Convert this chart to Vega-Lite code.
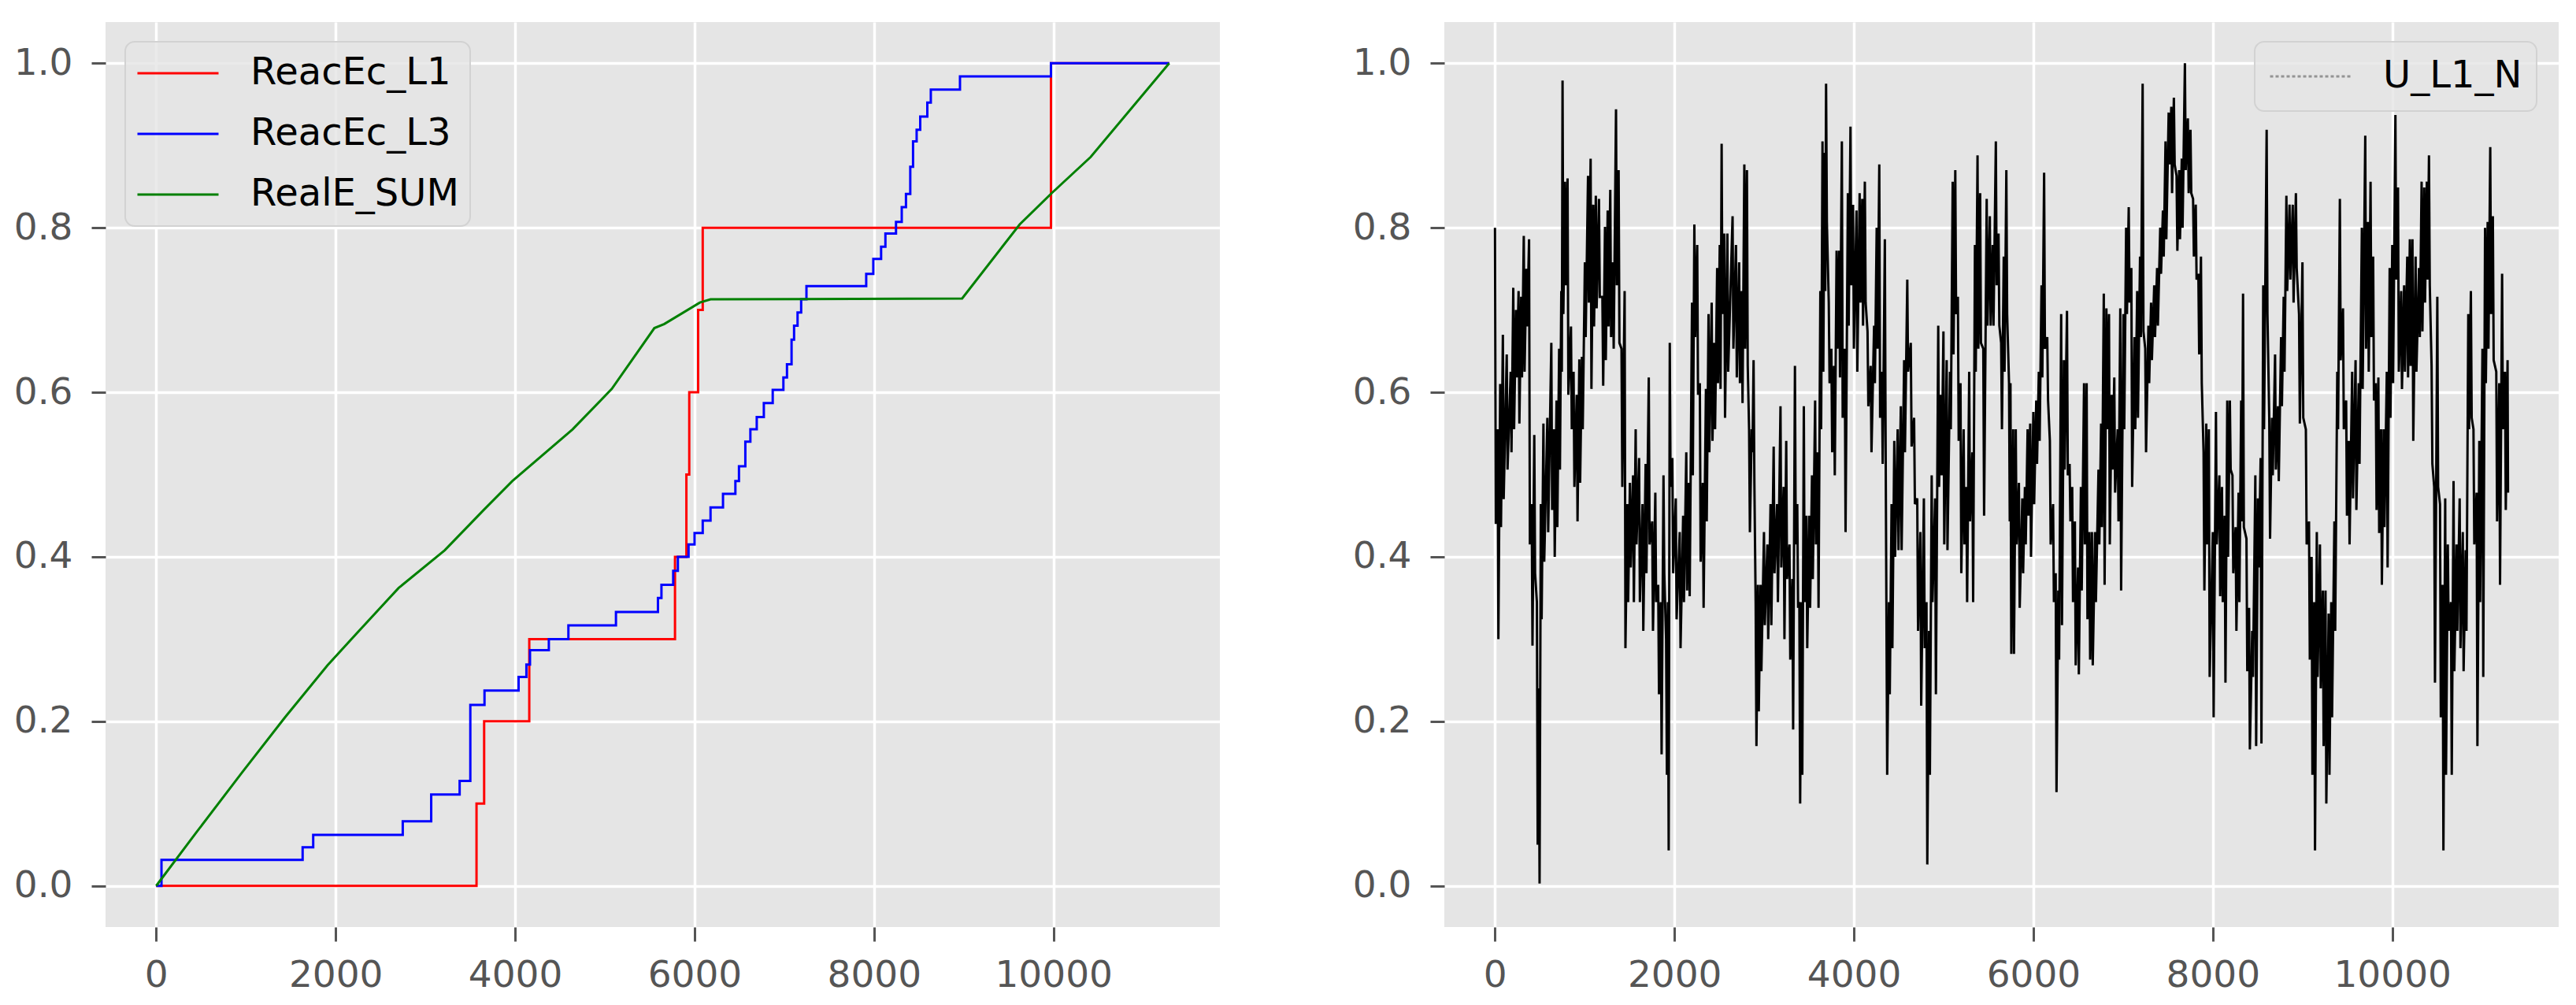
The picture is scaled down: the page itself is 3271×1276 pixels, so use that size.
{
"$schema": "https://vega.github.io/schema/vega-lite/v6.json",
"background": "white",
"padding": {"left": 17, "top": 28, "right": 0, "bottom": 14},
"spacing": 168,
"config": {
  "font": "DejaVu Sans",
  "view": {"fill": "#E5E5E5", "stroke": null},
  "axis": {"domain": false, "grid": true, "gridColor": "#FFFFFF", "gridWidth": 3.5, "tickColor": "#555555", "tickWidth": 3, "tickSize": 18, "labelColor": "#555555", "labelFont": "DejaVu Sans", "labelFontSize": 47, "labelLimit": 1000, "labelOverlap": false, "labelFlush": false, "title": null},
  "axisX": {"labelPadding": 20},
  "axisY": {"labelPadding": 24},
  "legend": {"strokeWidth": 2}
},
"resolve": {"scale": {"color": "independent"}, "legend": {"color": "independent"}},
"datasets": {
"left": [
{"s":"ReacEc_L1","x":0,"y":0},{"s":"ReacEc_L1","x":3570,"y":0.1},{"s":"ReacEc_L1","x":3655,"y":0.2},{"s":"ReacEc_L1","x":4158,"y":0.3},{"s":"ReacEc_L1","x":5782,"y":0.4},{"s":"ReacEc_L1","x":5909,"y":0.5},{"s":"ReacEc_L1","x":5941,"y":0.6},{"s":"ReacEc_L1","x":6040,"y":0.7},{"s":"ReacEc_L1","x":6091,"y":0.8},{"s":"ReacEc_L1","x":9972,"y":1.0},{"s":"ReacEc_L1","x":11290,"y":1.0},
{"s":"ReacEc_L3","x":0,"y":0},{"s":"ReacEc_L3","x":59,"y":0.0315},{"s":"ReacEc_L3","x":1632,"y":0.047},{"s":"ReacEc_L3","x":1750,"y":0.062},{"s":"ReacEc_L3","x":2748,"y":0.0785},{"s":"ReacEc_L3","x":3065,"y":0.111},{"s":"ReacEc_L3","x":3382,"y":0.1275},{"s":"ReacEc_L3","x":3501,"y":0.22},{"s":"ReacEc_L3","x":3659,"y":0.2375},{"s":"ReacEc_L3","x":4039,"y":0.254},{"s":"ReacEc_L3","x":4126,"y":0.269},{"s":"ReacEc_L3","x":4166,"y":0.2866},{"s":"ReacEc_L3","x":4376,"y":0.30},{"s":"ReacEc_L3","x":4594,"y":0.3167},{"s":"ReacEc_L3","x":5124,"y":0.333},{"s":"ReacEc_L3","x":5592,"y":0.35},{"s":"ReacEc_L3","x":5631,"y":0.366},{"s":"ReacEc_L3","x":5762,"y":0.383},{"s":"ReacEc_L3","x":5814,"y":0.40},{"s":"ReacEc_L3","x":5933,"y":0.415},{"s":"ReacEc_L3","x":6000,"y":0.429},{"s":"ReacEc_L3","x":6091,"y":0.444},{"s":"ReacEc_L3","x":6178,"y":0.46},{"s":"ReacEc_L3","x":6317,"y":0.4765},{"s":"ReacEc_L3","x":6455,"y":0.492},{"s":"ReacEc_L3","x":6495,"y":0.51},{"s":"ReacEc_L3","x":6566,"y":0.54},{"s":"ReacEc_L3","x":6622,"y":0.555},{"s":"ReacEc_L3","x":6693,"y":0.57},{"s":"ReacEc_L3","x":6772,"y":0.587},{"s":"ReacEc_L3","x":6871,"y":0.603},{"s":"ReacEc_L3","x":6990,"y":0.618},{"s":"ReacEc_L3","x":7030,"y":0.634},{"s":"ReacEc_L3","x":7081,"y":0.664},{"s":"ReacEc_L3","x":7109,"y":0.681},{"s":"ReacEc_L3","x":7148,"y":0.697},{"s":"ReacEc_L3","x":7188,"y":0.713},{"s":"ReacEc_L3","x":7247,"y":0.729},{"s":"ReacEc_L3","x":7913,"y":0.744},{"s":"ReacEc_L3","x":7992,"y":0.762},{"s":"ReacEc_L3","x":8079,"y":0.777},{"s":"ReacEc_L3","x":8127,"y":0.793},{"s":"ReacEc_L3","x":8245,"y":0.807},{"s":"ReacEc_L3","x":8309,"y":0.825},{"s":"ReacEc_L3","x":8356,"y":0.841},{"s":"ReacEc_L3","x":8404,"y":0.874},{"s":"ReacEc_L3","x":8435,"y":0.905},{"s":"ReacEc_L3","x":8475,"y":0.919},{"s":"ReacEc_L3","x":8515,"y":0.935},{"s":"ReacEc_L3","x":8594,"y":0.952},{"s":"ReacEc_L3","x":8633,"y":0.968},{"s":"ReacEc_L3","x":8958,"y":0.984},{"s":"ReacEc_L3","x":9972,"y":1.0},{"s":"ReacEc_L3","x":11290,"y":1.0},
{"s":"RealE_SUM","x":0,"y":0},{"s":"RealE_SUM","x":444,"y":0.0645},{"s":"RealE_SUM","x":958,"y":0.138},{"s":"RealE_SUM","x":1434,"y":0.2046},{"s":"RealE_SUM","x":1909,"y":0.268},{"s":"RealE_SUM","x":2226,"y":0.306},{"s":"RealE_SUM","x":2701,"y":0.362},{"s":"RealE_SUM","x":3216,"y":0.408},{"s":"RealE_SUM","x":3651,"y":0.457},{"s":"RealE_SUM","x":3968,"y":0.492},{"s":"RealE_SUM","x":4641,"y":0.555},{"s":"RealE_SUM","x":5077,"y":0.604},{"s":"RealE_SUM","x":5552,"y":0.678},{"s":"RealE_SUM","x":5663,"y":0.683},{"s":"RealE_SUM","x":6059,"y":0.709},{"s":"RealE_SUM","x":6178,"y":0.713},{"s":"RealE_SUM","x":8982,"y":0.714},{"s":"RealE_SUM","x":9623,"y":0.804},{"s":"RealE_SUM","x":9980,"y":0.842},{"s":"RealE_SUM","x":10415,"y":0.886},{"s":"RealE_SUM","x":11290,"y":1.0}
],
"right": [
{"x":0,"y":0.80},{"x":9,"y":0.44},{"x":29,"y":0.555},{"x":38,"y":0.30},{"x":58,"y":0.61},{"x":67,"y":0.436},{"x":88,"y":0.67},{"x":97,"y":0.47},{"x":131,"y":0.646},{"x":140,"y":0.506},{"x":175,"y":0.625},{"x":184,"y":0.527},{"x":204,"y":0.727},{"x":213,"y":0.555},{"x":234,"y":0.70},{"x":243,"y":0.618},{"x":263,"y":0.723},{"x":272,"y":0.562},{"x":292,"y":0.716},{"x":301,"y":0.618},{"x":321,"y":0.79},{"x":330,"y":0.625},{"x":350,"y":0.75},{"x":359,"y":0.68},{"x":380,"y":0.786},{"x":389,"y":0.415},{"x":409,"y":0.464},{"x":418,"y":0.292},{"x":438,"y":0.548},{"x":447,"y":0.38},{"x":467,"y":0.345},{"x":476,"y":0.05},{"x":488,"y":0.24},{"x":497,"y":0.003},{"x":511,"y":0.464},{"x":520,"y":0.324},{"x":540,"y":0.562},{"x":549,"y":0.394},{"x":584,"y":0.569},{"x":593,"y":0.43},{"x":628,"y":0.66},{"x":637,"y":0.457},{"x":657,"y":0.555},{"x":666,"y":0.40},{"x":686,"y":0.59},{"x":695,"y":0.436},{"x":715,"y":0.653},{"x":724,"y":0.506},{"x":739,"y":0.723},{"x":745,"y":0.625},{"x":753,"y":0.979},{"x":762,"y":0.695},{"x":780,"y":0.856},{"x":789,"y":0.73},{"x":809,"y":0.86},{"x":818,"y":0.597},{"x":847,"y":0.68},{"x":856,"y":0.555},{"x":876,"y":0.625},{"x":885,"y":0.485},{"x":911,"y":0.597},{"x":920,"y":0.443},{"x":940,"y":0.64},{"x":949,"y":0.49},{"x":969,"y":0.643},{"x":978,"y":0.555},{"x":1002,"y":0.758},{"x":1011,"y":0.667},{"x":1037,"y":0.863},{"x":1046,"y":0.709},{"x":1066,"y":0.884},{"x":1075,"y":0.604},{"x":1095,"y":0.828},{"x":1104,"y":0.68},{"x":1124,"y":0.839},{"x":1133,"y":0.702},{"x":1159,"y":0.835},{"x":1168,"y":0.716},{"x":1197,"y":0.716},{"x":1206,"y":0.608},{"x":1226,"y":0.801},{"x":1235,"y":0.639},{"x":1256,"y":0.821},{"x":1265,"y":0.68},{"x":1285,"y":0.846},{"x":1294,"y":0.667},{"x":1314,"y":0.758},{"x":1323,"y":0.653},{"x":1349,"y":0.944},{"x":1358,"y":0.73},{"x":1378,"y":0.87},{"x":1387,"y":0.66},{"x":1410,"y":0.653},{"x":1419,"y":0.485},{"x":1445,"y":0.723},{"x":1454,"y":0.289},{"x":1475,"y":0.464},{"x":1484,"y":0.345},{"x":1504,"y":0.49},{"x":1513,"y":0.387},{"x":1539,"y":0.499},{"x":1548,"y":0.345},{"x":1568,"y":0.555},{"x":1577,"y":0.415},{"x":1606,"y":0.52},{"x":1615,"y":0.345},{"x":1644,"y":0.464},{"x":1653,"y":0.31},{"x":1679,"y":0.513},{"x":1688,"y":0.38},{"x":1714,"y":0.618},{"x":1723,"y":0.415},{"x":1752,"y":0.443},{"x":1761,"y":0.31},{"x":1787,"y":0.478},{"x":1796,"y":0.345},{"x":1819,"y":0.366},{"x":1828,"y":0.233},{"x":1848,"y":0.345},{"x":1857,"y":0.16},{"x":1878,"y":0.499},{"x":1887,"y":0.38},{"x":1907,"y":0.30},{"x":1916,"y":0.135},{"x":1927,"y":0.345},{"x":1936,"y":0.043},{"x":1948,"y":0.66},{"x":1957,"y":0.485},{"x":1977,"y":0.52},{"x":1986,"y":0.38},{"x":2015,"y":0.471},{"x":2024,"y":0.324},{"x":2059,"y":0.43},{"x":2068,"y":0.289},{"x":2097,"y":0.45},{"x":2106,"y":0.345},{"x":2132,"y":0.527},{"x":2141,"y":0.359},{"x":2161,"y":0.49},{"x":2170,"y":0.352},{"x":2196,"y":0.709},{"x":2205,"y":0.499},{"x":2222,"y":0.804},{"x":2231,"y":0.667},{"x":2254,"y":0.779},{"x":2263,"y":0.597},{"x":2283,"y":0.611},{"x":2292,"y":0.394},{"x":2316,"y":0.49},{"x":2325,"y":0.338},{"x":2351,"y":0.604},{"x":2360,"y":0.443},{"x":2380,"y":0.695},{"x":2389,"y":0.527},{"x":2415,"y":0.709},{"x":2424,"y":0.541},{"x":2444,"y":0.66},{"x":2453,"y":0.555},{"x":2476,"y":0.751},{"x":2485,"y":0.611},{"x":2505,"y":0.779},{"x":2514,"y":0.604},{"x":2526,"y":0.902},{"x":2535,"y":0.695},{"x":2555,"y":0.793},{"x":2564,"y":0.569},{"x":2590,"y":0.793},{"x":2599,"y":0.625},
{"x":2648,"y":0.814},{"x":2657,"y":0.653},{"x":2686,"y":0.779},{"x":2695,"y":0.618},{"x":2721,"y":0.758},{"x":2730,"y":0.611},{"x":2750,"y":0.723},{"x":2759,"y":0.587},{"x":2779,"y":0.877},{"x":2788,"y":0.653},{"x":2808,"y":0.87},{"x":2817,"y":0.632},{"x":2832,"y":0.555},{"x":2841,"y":0.43},{"x":2861,"y":0.555},{"x":2870,"y":0.527},{"x":2882,"y":0.639},{"x":2891,"y":0.49},{"x":2905,"y":0.345},{"x":2914,"y":0.17},{"x":2931,"y":0.366},{"x":2940,"y":0.212},{"x":2960,"y":0.366},{"x":2969,"y":0.261},{"x":2998,"y":0.43},{"x":3007,"y":0.317},{"x":3036,"y":0.415},{"x":3045,"y":0.30},{"x":3071,"y":0.464},{"x":3080,"y":0.317},{"x":3106,"y":0.534},{"x":3115,"y":0.38},{"x":3144,"y":0.464},{"x":3153,"y":0.345},{"x":3182,"y":0.583},{"x":3191,"y":0.387},{"x":3217,"y":0.485},{"x":3226,"y":0.30},{"x":3246,"y":0.541},{"x":3255,"y":0.373},{"x":3282,"y":0.415},{"x":3291,"y":0.275},{"x":3314,"y":0.373},{"x":3323,"y":0.19},{"x":3343,"y":0.632},{"x":3352,"y":0.415},{"x":3369,"y":0.464},{"x":3378,"y":0.338},{"x":3392,"y":0.345},{"x":3401,"y":0.10},{"x":3416,"y":0.345},{"x":3425,"y":0.135},{"x":3442,"y":0.583},{"x":3451,"y":0.345},{"x":3471,"y":0.45},{"x":3480,"y":0.289},{"x":3503,"y":0.45},{"x":3512,"y":0.338},{"x":3533,"y":0.499},{"x":3542,"y":0.373},{"x":3568,"y":0.59},{"x":3577,"y":0.415},{"x":3597,"y":0.527},{"x":3606,"y":0.338},{"x":3626,"y":0.723},{"x":3635,"y":0.555},{"x":3650,"y":0.905},{"x":3659,"y":0.625},{"x":3673,"y":0.891},{"x":3681,"y":0.723},{"x":3690,"y":0.975},{"x":3699,"y":0.807},{"x":3720,"y":0.709},{"x":3729,"y":0.611},{"x":3749,"y":0.653},{"x":3758,"y":0.527},{"x":3778,"y":0.632},{"x":3787,"y":0.499},{"x":3807,"y":0.772},{"x":3816,"y":0.653},{"x":3836,"y":0.772},{"x":3845,"y":0.618},{"x":3866,"y":0.905},{"x":3875,"y":0.569},{"x":3898,"y":0.653},{"x":3907,"y":0.43},{"x":3933,"y":0.842},{"x":3942,"y":0.681},{"x":3962,"y":0.923},{"x":3971,"y":0.73},{"x":3991,"y":0.828},{"x":4000,"y":0.653},{"x":4029,"y":0.821},{"x":4038,"y":0.625},{"x":4064,"y":0.842},{"x":4073,"y":0.709},{"x":4093,"y":0.835},{"x":4102,"y":0.681},{"x":4122,"y":0.856},{"x":4131,"y":0.709},{"x":4152,"y":0.674},{"x":4161,"y":0.583},{"x":4187,"y":0.632},{"x":4196,"y":0.527},{"x":4225,"y":0.681},{"x":4234,"y":0.611},{"x":4254,"y":0.80},{"x":4263,"y":0.653},{"x":4283,"y":0.877},{"x":4292,"y":0.569},{"x":4312,"y":0.625},{"x":4321,"y":0.513},{"x":4345,"y":0.786},{"x":4353,"y":0.555},{"x":4362,"y":0.345},{"x":4371,"y":0.135},{"x":4391,"y":0.345},{"x":4400,"y":0.233},{"x":4420,"y":0.464},{"x":4429,"y":0.289},{"x":4450,"y":0.541},{"x":4459,"y":0.40},{"x":4488,"y":0.555},{"x":4497,"y":0.408},{"x":4523,"y":0.583},{"x":4532,"y":0.408},{"x":4560,"y":0.639},{"x":4569,"y":0.527},{"x":4595,"y":0.737},{"x":4604,"y":0.625},{"x":4634,"y":0.66},{"x":4643,"y":0.534},{"x":4671,"y":0.569},{"x":4680,"y":0.464},{"x":4706,"y":0.471},{"x":4715,"y":0.31},{"x":4741,"y":0.43},{"x":4750,"y":0.219},{"x":4780,"y":0.471},{"x":4789,"y":0.289},{"x":4809,"y":0.345},{"x":4818,"y":0.026},{"x":4838,"y":0.31},{"x":4847,"y":0.135},{"x":4867,"y":0.499},{"x":4876,"y":0.345},{"x":4905,"y":0.471},{"x":4914,"y":0.233},{"x":4940,"y":0.681},{"x":4949,"y":0.485},{"x":4969,"y":0.597},{"x":4978,"y":0.499},{"x":4998,"y":0.674},{"x":5007,"y":0.415},{"x":5034,"y":0.639},{"x":5043,"y":0.408},{"x":5071,"y":0.625},{"x":5080,"y":0.555},{"x":5101,"y":0.856},{"x":5110,"y":0.646},{"x":5130,"y":0.87},{"x":5139,"y":0.695},{"x":5159,"y":0.716},{"x":5168,"y":0.541},{"x":5188,"y":0.611},{"x":5197,"y":0.38},{"x":5223,"y":0.555},{"x":5232,"y":0.415},{"x":5253,"y":0.485},{"x":5262,"y":0.345},{"x":5285,"y":0.625},{"x":5294,"y":0.443},{"x":5320,"y":0.527},{"x":5329,"y":0.345},{"x":5349,"y":0.779},{"x":5358,"y":0.625},{"x":5378,"y":0.888},{"x":5387,"y":0.653},{"x":5407,"y":0.842},{"x":5416,"y":0.66},{"x":5442,"y":0.653},{"x":5451,"y":0.45},{"x":5480,"y":0.835},{"x":5489,"y":0.681},{"x":5515,"y":0.814},{"x":5524,"y":0.681},{"x":5547,"y":0.779},{"x":5556,"y":0.681},{"x":5582,"y":0.905},{"x":5591,"y":0.73},{"x":5612,"y":0.793},{"x":5621,"y":0.681},{"x":5641,"y":0.66},{"x":5650,"y":0.555},{"x":5670,"y":0.765},{"x":5679,"y":0.625},{"x":5699,"y":0.87},{"x":5708,"y":0.695},{"x":5729,"y":0.611},{"x":5737,"y":0.443},
{"x":5745,"y":0.611},{"x":5754,"y":0.282},{"x":5775,"y":0.555},{"x":5784,"y":0.282},{"x":5804,"y":0.555},{"x":5813,"y":0.415},{"x":5839,"y":0.49},{"x":5848,"y":0.338},{"x":5877,"y":0.471},{"x":5886,"y":0.38},{"x":5906,"y":0.485},{"x":5915,"y":0.415},{"x":5936,"y":0.555},{"x":5945,"y":0.45},{"x":5965,"y":0.562},{"x":5974,"y":0.40},{"x":6000,"y":0.576},{"x":6009,"y":0.464},{"x":6032,"y":0.59},{"x":6041,"y":0.513},{"x":6061,"y":0.625},{"x":6070,"y":0.541},{"x":6091,"y":0.73},{"x":6100,"y":0.618},{"x":6120,"y":0.867},{"x":6129,"y":0.653},{"x":6155,"y":0.667},{"x":6164,"y":0.59},{"x":6184,"y":0.541},{"x":6193,"y":0.415},{"x":6220,"y":0.464},{"x":6229,"y":0.345},{"x":6249,"y":0.38},{"x":6258,"y":0.114},{"x":6278,"y":0.359},{"x":6287,"y":0.275},{"x":6310,"y":0.695},{"x":6319,"y":0.317},{"x":6340,"y":0.639},{"x":6349,"y":0.506},{"x":6375,"y":0.699},{"x":6384,"y":0.499},{"x":6404,"y":0.513},{"x":6413,"y":0.443},{"x":6433,"y":0.485},{"x":6442,"y":0.345},{"x":6463,"y":0.443},{"x":6472,"y":0.268},{"x":6498,"y":0.387},{"x":6507,"y":0.257},{"x":6530,"y":0.485},{"x":6539,"y":0.359},{"x":6565,"y":0.611},{"x":6574,"y":0.415},{"x":6594,"y":0.611},{"x":6603,"y":0.324},{"x":6624,"y":0.43},{"x":6633,"y":0.275},{"x":6653,"y":0.43},{"x":6662,"y":0.268},{"x":6688,"y":0.43},{"x":6697,"y":0.345},{"x":6726,"y":0.506},{"x":6735,"y":0.415},{"x":6755,"y":0.562},{"x":6764,"y":0.436},{"x":6785,"y":0.72},{"x":6794,"y":0.366},{"x":6814,"y":0.702},{"x":6823,"y":0.555},{"x":6843,"y":0.695},{"x":6852,"y":0.415},{"x":6873,"y":0.597},{"x":6882,"y":0.506},{"x":6902,"y":0.618},{"x":6911,"y":0.478},{"x":6940,"y":0.555},{"x":6949,"y":0.443},{"x":6969,"y":0.702},{"x":6978,"y":0.359},{"x":7004,"y":0.695},{"x":7013,"y":0.555},{"x":7034,"y":0.80},{"x":7043,"y":0.695},{"x":7063,"y":0.825},{"x":7072,"y":0.709},{"x":7092,"y":0.751},{"x":7101,"y":0.485},{"x":7127,"y":0.667},{"x":7136,"y":0.555},{"x":7157,"y":0.723},{"x":7166,"y":0.569},{"x":7189,"y":0.765},{"x":7198,"y":0.667},{"x":7218,"y":0.975},{"x":7227,"y":0.674},{"x":7247,"y":0.653},{"x":7256,"y":0.527},{"x":7282,"y":0.681},{"x":7291,"y":0.611},{"x":7312,"y":0.709},{"x":7321,"y":0.639},{"x":7347,"y":0.73},{"x":7356,"y":0.667},{"x":7379,"y":0.751},{"x":7388,"y":0.681},{"x":7414,"y":0.80},{"x":7423,"y":0.744},{"x":7444,"y":0.821},{"x":7453,"y":0.765},{"x":7473,"y":0.905},{"x":7482,"y":0.786},{"x":7508,"y":0.94},{"x":7517,"y":0.877},{"x":7537,"y":0.947},{"x":7546,"y":0.842},{"x":7566,"y":0.958},{"x":7575,"y":0.877},{"x":7596,"y":0.863},{"x":7605,"y":0.772},{"x":7625,"y":0.87},{"x":7634,"y":0.786},{"x":7654,"y":0.884},{"x":7663,"y":0.80},{"x":7689,"y":1.0},{"x":7698,"y":0.87},{"x":7722,"y":0.933},{"x":7731,"y":0.842},{"x":7751,"y":0.919},{"x":7760,"y":0.842},{"x":7780,"y":0.835},{"x":7789,"y":0.765},{"x":7810,"y":0.828},{"x":7819,"y":0.737},{"x":7839,"y":0.744},{"x":7848,"y":0.646},{"x":7868,"y":0.765},{"x":7877,"y":0.611},{"x":7897,"y":0.527},{"x":7906,"y":0.359},{"x":7927,"y":0.562},{"x":7936,"y":0.415},{"x":7956,"y":0.555},{"x":7965,"y":0.254},{"x":8000,"y":0.43},{"x":8009,"y":0.205},{"x":8035,"y":0.576},{"x":8044,"y":0.415},{"x":8073,"y":0.499},{"x":8082,"y":0.352},{"x":8102,"y":0.485},{"x":8111,"y":0.345},{"x":8132,"y":0.45},{"x":8141,"y":0.247},{"x":8161,"y":0.59},{"x":8170,"y":0.40},{"x":8190,"y":0.59},{"x":8199,"y":0.506},{"x":8219,"y":0.499},{"x":8228,"y":0.38},{"x":8254,"y":0.436},{"x":8263,"y":0.31},{"x":8287,"y":0.478},{"x":8296,"y":0.345},{"x":8316,"y":0.59},{"x":8325,"y":0.443},{"x":8337,"y":0.72},{"x":8346,"y":0.436},{"x":8375,"y":0.422},{"x":8384,"y":0.261},{"x":8404,"y":0.338},{"x":8413,"y":0.166},{"x":8439,"y":0.31},{"x":8448,"y":0.254},{"x":8474,"y":0.499},{"x":8483,"y":0.17},{"x":8503,"y":0.471},{"x":8512,"y":0.387},{"x":8533,"y":0.52},{"x":8542,"y":0.173},{"x":8562,"y":0.73},{"x":8571,"y":0.555},{"x":8600,"y":0.919},{"x":8609,"y":0.695},{"x":8629,"y":0.569},{"x":8638,"y":0.422},{"x":8659,"y":0.569},{"x":8668,"y":0.499},{"x":8694,"y":0.646},{"x":8703,"y":0.506},{"x":8726,"y":0.583},{"x":8735,"y":0.492},{"x":8761,"y":0.667},{"x":8770,"y":0.583},{"x":8790,"y":0.716},{"x":8799,"y":0.625},{"x":8820,"y":0.839},{"x":8829,"y":0.723},{"x":8855,"y":0.828},{"x":8864,"y":0.737},
{"x":8891,"y":0.828},{"x":8900,"y":0.709},{"x":8926,"y":0.842},{"x":8935,"y":0.751},{"x":8961,"y":0.695},{"x":8970,"y":0.562},{"x":8999,"y":0.758},{"x":9008,"y":0.569},{"x":9037,"y":0.555},{"x":9046,"y":0.415},{"x":9072,"y":0.443},{"x":9081,"y":0.275},{"x":9101,"y":0.40},{"x":9110,"y":0.135},{"x":9130,"y":0.345},{"x":9139,"y":0.043},{"x":9159,"y":0.43},{"x":9168,"y":0.254},{"x":9194,"y":0.415},{"x":9203,"y":0.24},{"x":9226,"y":0.359},{"x":9235,"y":0.17},{"x":9256,"y":0.359},{"x":9265,"y":0.10},{"x":9291,"y":0.331},{"x":9300,"y":0.135},{"x":9320,"y":0.345},{"x":9329,"y":0.205},{"x":9355,"y":0.443},{"x":9364,"y":0.31},{"x":9387,"y":0.625},{"x":9396,"y":0.555},{"x":9416,"y":0.835},{"x":9425,"y":0.639},{"x":9451,"y":0.702},{"x":9460,"y":0.555},{"x":9486,"y":0.59},{"x":9495,"y":0.45},{"x":9515,"y":0.541},{"x":9524,"y":0.415},{"x":9553,"y":0.625},{"x":9562,"y":0.471},{"x":9591,"y":0.639},{"x":9600,"y":0.457},{"x":9626,"y":0.611},{"x":9635,"y":0.513},{"x":9661,"y":0.80},{"x":9670,"y":0.604},{"x":9699,"y":0.912},{"x":9708,"y":0.653},{"x":9729,"y":0.807},{"x":9738,"y":0.625},{"x":9758,"y":0.856},{"x":9767,"y":0.667},{"x":9787,"y":0.765},{"x":9796,"y":0.59},{"x":9816,"y":0.611},{"x":9825,"y":0.457},{"x":9845,"y":0.618},{"x":9854,"y":0.429},{"x":9875,"y":0.555},{"x":9884,"y":0.366},{"x":9904,"y":0.555},{"x":9913,"y":0.436},{"x":9939,"y":0.625},{"x":9948,"y":0.387},{"x":9971,"y":0.751},{"x":9980,"y":0.569},{"x":10000,"y":0.779},{"x":10009,"y":0.611},{"x":10035,"y":0.937},{"x":10044,"y":0.737},{"x":10064,"y":0.849},{"x":10073,"y":0.625},{"x":10099,"y":0.723},{"x":10108,"y":0.604},{"x":10132,"y":0.73},{"x":10141,"y":0.625},{"x":10167,"y":0.765},{"x":10176,"y":0.618},{"x":10196,"y":0.786},{"x":10205,"y":0.632},{"x":10225,"y":0.786},{"x":10234,"y":0.541},{"x":10260,"y":0.765},{"x":10269,"y":0.625},{"x":10298,"y":0.751},{"x":10307,"y":0.667},{"x":10327,"y":0.856},{"x":10336,"y":0.674},{"x":10356,"y":0.849},{"x":10365,"y":0.709},{"x":10385,"y":0.856},{"x":10394,"y":0.737},{"x":10409,"y":0.888},{"x":10418,"y":0.73},{"x":10438,"y":0.632},{"x":10447,"y":0.513},{"x":10467,"y":0.485},{"x":10476,"y":0.247},{"x":10502,"y":0.716},{"x":10511,"y":0.485},{"x":10532,"y":0.464},{"x":10541,"y":0.205},{"x":10561,"y":0.366},{"x":10570,"y":0.043},{"x":10590,"y":0.471},{"x":10599,"y":0.135},{"x":10619,"y":0.415},{"x":10628,"y":0.31},{"x":10654,"y":0.345},{"x":10663,"y":0.135},{"x":10683,"y":0.492},{"x":10692,"y":0.261},{"x":10716,"y":0.415},{"x":10725,"y":0.31},{"x":10751,"y":0.471},{"x":10760,"y":0.289},{"x":10786,"y":0.43},{"x":10795,"y":0.261},{"x":10818,"y":0.408},{"x":10827,"y":0.31},{"x":10847,"y":0.695},{"x":10856,"y":0.555},{"x":10876,"y":0.723},{"x":10885,"y":0.569},{"x":10905,"y":0.555},{"x":10914,"y":0.415},{"x":10940,"y":0.478},{"x":10949,"y":0.17},{"x":10970,"y":0.541},{"x":10979,"y":0.345},{"x":11005,"y":0.653},{"x":11014,"y":0.254},{"x":11034,"y":0.80},{"x":11043,"y":0.611},{"x":11063,"y":0.807},{"x":11072,"y":0.653},{"x":11092,"y":0.898},{"x":11101,"y":0.695},{"x":11121,"y":0.814},{"x":11130,"y":0.639},{"x":11159,"y":0.625},{"x":11168,"y":0.443},{"x":11192,"y":0.611},{"x":11201,"y":0.366},{"x":11224,"y":0.744},{"x":11233,"y":0.555},{"x":11256,"y":0.625},{"x":11265,"y":0.457},{"x":11285,"y":0.639},{"x":11290,"y":0.478}
]
},
"hconcat": [
{
  "width": 1415, "height": 1149,
  "layer": [
    {
      "data": {"name": "left"},
      "transform": [{"filter": "datum.s !== 'RealE_SUM'"}],
      "mark": {"type": "line", "interpolate": "step-after", "strokeWidth": 3},
      "encoding": {
        "x": {"field": "x", "type": "quantitative", "scale": {"domain": [-564.5, 11854.5], "nice": false, "zero": false}, "axis": {"values": [0, 2000, 4000, 6000, 8000, 10000], "format": "d"}},
        "y": {"field": "y", "type": "quantitative", "scale": {"domain": [-0.05, 1.05], "nice": false, "zero": false}, "axis": {"values": [0, 0.2, 0.4, 0.6, 0.8, 1.0], "format": ".1f"}},
        "color": {"field": "s", "type": "nominal", "scale": {"domain": ["ReacEc_L1", "ReacEc_L3", "RealE_SUM"], "range": ["#FF0000", "#0000FF", "#008000"]},
          "legend": {"orient": "none", "legendX": 25, "legendY": 25, "title": null, "symbolType": "stroke", "symbolSize": 10609, "symbolStrokeWidth": 3, "clipHeight": 52, "labelFontSize": 48, "labelColor": "#000000", "labelFont": "DejaVu Sans", "labelLimit": 1000, "labelOffset": 39, "padding": 14, "rowPadding": 25, "fillColor": "rgba(229,229,229,0.8)", "strokeColor": "#D2D2D2", "cornerRadius": 12}}
      }
    },
    {
      "data": {"name": "left"},
      "transform": [{"filter": "datum.s === 'RealE_SUM'"}],
      "mark": {"type": "line", "strokeWidth": 3},
      "encoding": {
        "x": {"field": "x", "type": "quantitative"},
        "y": {"field": "y", "type": "quantitative"},
        "color": {"field": "s", "type": "nominal"}
      }
    }
  ]
},
{
  "width": 1415, "height": 1149,
  "data": {"name": "right"},
  "mark": {"type": "line", "strokeWidth": 3},
  "encoding": {
    "x": {"field": "x", "type": "quantitative", "scale": {"domain": [-564.5, 11854.5], "nice": false, "zero": false}, "axis": {"values": [0, 2000, 4000, 6000, 8000, 10000], "format": "d"}},
    "y": {"field": "y", "type": "quantitative", "scale": {"domain": [-0.05, 1.05], "nice": false, "zero": false}, "axis": {"values": [0, 0.2, 0.4, 0.6, 0.8, 1.0], "format": ".1f"}},
    "color": {"datum": "U_L1_N", "type": "nominal", "scale": {"domain": ["U_L1_N"], "range": ["#000000"]},
      "legend": {"orient": "none", "legendX": 1029, "legendY": 25, "title": null, "symbolType": "stroke", "symbolSize": 10609, "symbolStrokeWidth": 3, "symbolDash": [4, 3], "symbolOpacity": 0.35, "clipHeight": 52, "labelFontSize": 48, "labelColor": "#000000", "labelFont": "DejaVu Sans", "labelLimit": 1000, "labelOffset": 39, "padding": 18, "fillColor": "rgba(229,229,229,0.8)", "strokeColor": "#D2D2D2", "cornerRadius": 12,
        "encode": {"symbols": {"enter": {"stroke": {"value": "#AAAAAA"}, "opacity": {"value": 0.35}}, "update": {"stroke": {"value": "#AAAAAA"}, "opacity": {"value": 0.35}}}}}}
  }
}
]
}
